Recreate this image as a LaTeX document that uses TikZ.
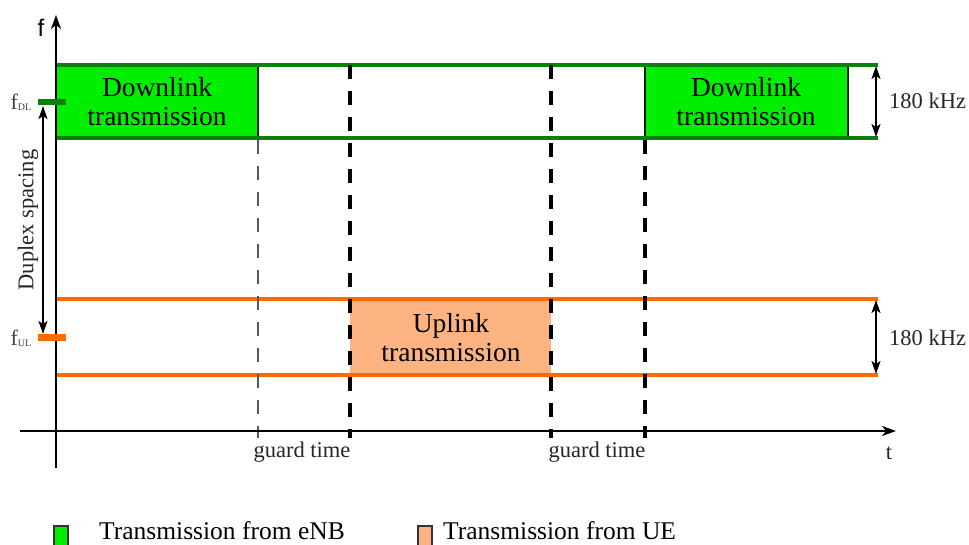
\documentclass[tikz,border=0pt]{standalone}
\usepackage{fontspec}
\setmainfont{Liberation Serif}
\newfontfamily\axisfont{Liberation Sans}
\usetikzlibrary{arrows.meta}
\definecolor{dlgreen}{HTML}{00EE00}
\definecolor{dldark}{HTML}{0B800B}
\definecolor{ulorange}{HTML}{FF6A00}
\definecolor{ulfill}{HTML}{FDB381}
\definecolor{lblgrey}{HTML}{404040}
\begin{document}
\begin{tikzpicture}[x=1pt,y=-1pt,
  boxtxt/.style={align=center,font=\fontsize{27.5}{29}\selectfont,inner sep=0pt},
  legtxt/.style={font=\fontsize{25.5}{29}\selectfont,inner sep=0pt},
  smalltxt/.style={font=\fontsize{22.5}{24}\selectfont,inner sep=0pt,text=black!85},
  glabel/.style={font=\fontsize{22.5}{24}\selectfont,inner sep=0pt,text=black!85},
  greenline/.style={draw=dldark,line width=3.6pt},
  orangeline/.style={draw=ulorange,line width=3.6pt},
  dashthick/.style={draw=black,line width=3.6pt,dash pattern=on 14pt off 12pt},
  dashthin/.style={draw=black!65,line width=2.4pt,dash pattern=on 14pt off 12pt},
  axisline/.style={draw=black,line width=1.9pt,-{Stealth[length=14pt,width=10pt,inset=4pt]}},
  dimarrow/.style={draw=black,line width=1.8pt,{Stealth[length=13pt,width=9pt,inset=3pt]}-{Stealth[length=13pt,width=9pt,inset=3pt]}},
  legbox/.style={draw=black!80,line width=1.5pt,minimum width=14pt,minimum height=20pt,inner sep=0pt}]
\useasboundingbox (0,0) rectangle (969,545);

% coordinates
\coordinate (gtl) at (56,65);  \coordinate (gtr) at (878,65);
\coordinate (gbl) at (56,138); \coordinate (gbr) at (878,138);
\coordinate (otl) at (56,299); \coordinate (otr) at (878,299);
\coordinate (obl) at (56,375); \coordinate (obr) at (878,375);

% downlink boxes
\fill[dlgreen] (56,65) rectangle (258,138);
\fill[dlgreen] (645,65) rectangle (848,138);
\draw[draw=black!75!dldark,line width=2.8pt] (258,65) -- (258,138);
\draw[draw=black!75!dldark,line width=2.8pt] (645,65) -- (645,138);
\draw[draw=black!75!dldark,line width=2.8pt] (848,65) -- (848,138);
% uplink box
\fill[ulfill] (350,299) rectangle (551,375);

% bands
\draw[greenline] (gtl) -- (gtr);
\draw[greenline] (gbl) -- (gbr);
\draw[orangeline] (otl) -- (otr);
\draw[orangeline] (obl) -- (obr);

% dashed lines
\coordinate (d1t) at (258,140); \coordinate (d1b) at (258,438);
\coordinate (d2t) at (350,65);  \coordinate (d2b) at (350,438);
\coordinate (d3t) at (551,65);  \coordinate (d3b) at (551,438);
\coordinate (d4t) at (645,140); \coordinate (d4b) at (645,438);
\draw[dashthin] (d1t) -- (d1b);
\draw[dashthick] (d2t) -- (d2b);
\draw[dashthick] (d3t) -- (d3b);
\draw[dashthick] (d4t) -- (d4b);

% axes
\coordinate (yb) at (56,468); \coordinate (yt) at (56,15);
\coordinate (xl) at (20,431); \coordinate (xr) at (896,431);
\draw[axisline] (yb) -- (yt);
\draw[axisline] (xl) -- (xr);
\node[font=\axisfont\fontsize{24}{26}\selectfont,inner sep=0pt] (flab) at (41,28) {f};
\node[smalltxt] (tlab) at (889,453) {t};

% frequency markers
\coordinate (fdlA) at (38,102); \coordinate (fdlB) at (66,102);
\coordinate (fulA) at (38,337); \coordinate (fulB) at (66,337);
\draw[draw=dldark,line width=6pt] (fdlA) -- (fdlB);
\draw[draw=ulorange,line width=7pt] (fulA) -- (fulB);
\node[text=lblgrey,font=\fontsize{22}{24}\selectfont,inner sep=0pt] (fdl) at (21,102) {f\raisebox{-1pt}{\fontsize{10}{11}\selectfont DL}};
\node[text=lblgrey,font=\fontsize{22}{24}\selectfont,inner sep=0pt] (ful) at (21,338) {f\raisebox{-1pt}{\fontsize{10}{11}\selectfont UL}};

% duplex spacing
\coordinate (dupt) at (43,106); \coordinate (dupb) at (43,334);
\draw[dimarrow] (dupt) -- (dupb);
\node[smalltxt,rotate=90] (dup) at (28,220) {Duplex spacing};

% 180 kHz
\coordinate (k1t) at (876,66); \coordinate (k1b) at (876,137);
\coordinate (k2t) at (876,300); \coordinate (k2b) at (876,374);
\draw[dimarrow] (k1t) -- (k1b);
\draw[dimarrow] (k2t) -- (k2b);
\node[smalltxt,anchor=west] (khz1) at (889,101) {180 kHz};
\node[smalltxt,anchor=west] (khz2) at (889,338) {180 kHz};

% box texts
\node[boxtxt] (dl1) at (157,102) {Downlink\\transmission};
\node[boxtxt] (dl2) at (746,102) {Downlink\\transmission};
\node[boxtxt] (ul) at (451,338) {Uplink\\transmission};

% guard time
\node[glabel] (g1) at (302,452) {guard time};
\node[glabel] (g2) at (597,452) {guard time};

% legend
\node[legbox,fill=dlgreen] (leg1) at (61,536) {};
\node[legtxt,anchor=west] (leg1t) at (99,531) {Transmission from eNB};
\node[legbox,fill=ulfill] (leg2) at (425,536) {};
\node[legtxt,anchor=west] (leg2t) at (443,531) {Transmission from UE};
\end{tikzpicture}
\end{document}
